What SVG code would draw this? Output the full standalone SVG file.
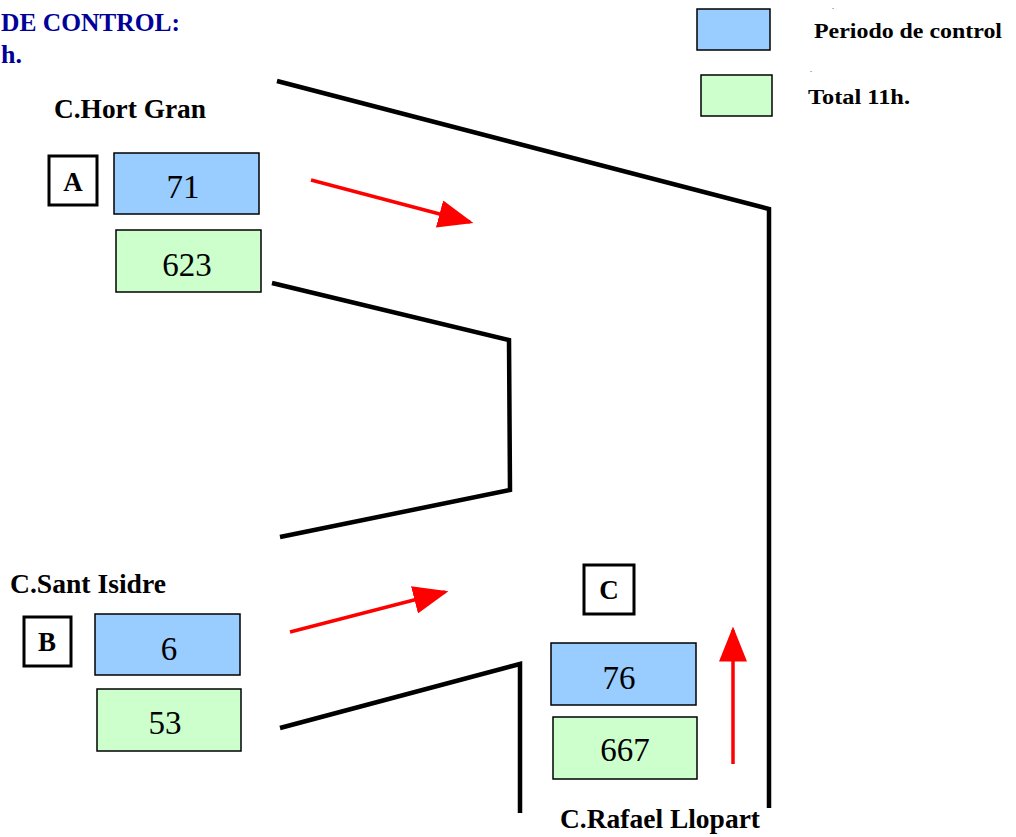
<svg xmlns="http://www.w3.org/2000/svg" width="1016" height="837" viewBox="0 0 1016 837">
<style>
text{font-family:"Liberation Serif","Times New Roman",serif;}
.lbl{font-weight:bold;font-size:27px;fill:#000;}
.leg{font-weight:bold;font-size:20px;fill:#000;}
.num{font-size:33px;fill:#000;text-anchor:middle;}
.key{font-weight:bold;font-size:27px;fill:#000;text-anchor:middle;}
.per{fill:#99CCFF;stroke:#000;stroke-width:1.5;}
.tot{fill:#CCFFCC;stroke:#000;stroke-width:1.5;}
.sq{fill:#fff;stroke:#000;stroke-width:3;}
.road{fill:none;stroke:#000;stroke-width:4.5;}
.arr{fill:none;stroke:#FF0000;stroke-width:3.5;marker-end:url(#ah);}
.title{font-weight:bold;font-size:26px;fill:#000099;}
</style>
<defs>
<marker id="ah" markerWidth="10" markerHeight="8" refX="9" refY="4" orient="auto" markerUnits="strokeWidth">
<path d="M0,0 L10,4 L0,8 Z" fill="#FF0000"/>
</marker>
</defs>
<g id="title">
<text class="title" x="1" y="31" textLength="179" lengthAdjust="spacingAndGlyphs">DE CONTROL:</text>
<text class="title" x="1" y="63">h.</text>
</g>
<g id="legend">
<rect class="per" x="697" y="9" width="73" height="41"/>
<rect class="tot" x="701" y="75" width="71" height="41"/>
<text class="leg" x="814" y="38" textLength="188" lengthAdjust="spacingAndGlyphs">Periodo de control</text>
<text class="leg" x="808" y="104" textLength="102" lengthAdjust="spacingAndGlyphs">Total 11h.</text>
<text x="832" y="9" style="font-size:8px">.</text>
<text x="810" y="72" style="font-size:8px">.</text>
</g>
<g id="connectors">
<path class="road" d="M277,81 L769,209 L769,808"/>
<path class="road" d="M272,283 L509,340 L510,490 L280,537"/>
<path class="road" d="M280,728 L520,664 L520,813"/>
<line class="arr" x1="311" y1="180" x2="470" y2="222"/>
<line class="arr" x1="290" y1="632" x2="445" y2="592"/>
<line class="arr" x1="733" y1="764" x2="733" y2="630"/>
</g>
<g id="nodeA">
<text class="lbl" x="54" y="118" textLength="152" lengthAdjust="spacingAndGlyphs">C.Hort Gran</text>
<rect class="sq" x="49" y="156" width="48" height="49"/>
<text class="key" x="73" y="191">A</text>
<rect class="per" x="114" y="153" width="145" height="61"/>
<text class="num" x="183" y="198">71</text>
<rect class="tot" x="116" y="230" width="145" height="62"/>
<text class="num" x="187" y="276">623</text>
</g>
<g id="nodeB">
<text class="lbl" x="10" y="593" textLength="156" lengthAdjust="spacingAndGlyphs">C.Sant Isidre</text>
<rect class="sq" x="24" y="617" width="47" height="49"/>
<text class="key" x="47" y="651">B</text>
<rect class="per" x="95" y="614" width="145" height="61"/>
<text class="num" x="169" y="660">6</text>
<rect class="tot" x="97" y="689" width="144" height="62"/>
<text class="num" x="165" y="734">53</text>
</g>
<g id="nodeC">
<rect class="sq" x="584" y="565" width="50" height="49"/>
<text class="key" x="609" y="599">C</text>
<rect class="per" x="551" y="643" width="145" height="62"/>
<text class="num" x="619" y="689">76</text>
<rect class="tot" x="553" y="717" width="144" height="62"/>
<text class="num" x="625" y="761">667</text>
<text class="lbl" x="560" y="828" textLength="200" lengthAdjust="spacingAndGlyphs">C.Rafael Llopart</text>
</g>
</svg>
